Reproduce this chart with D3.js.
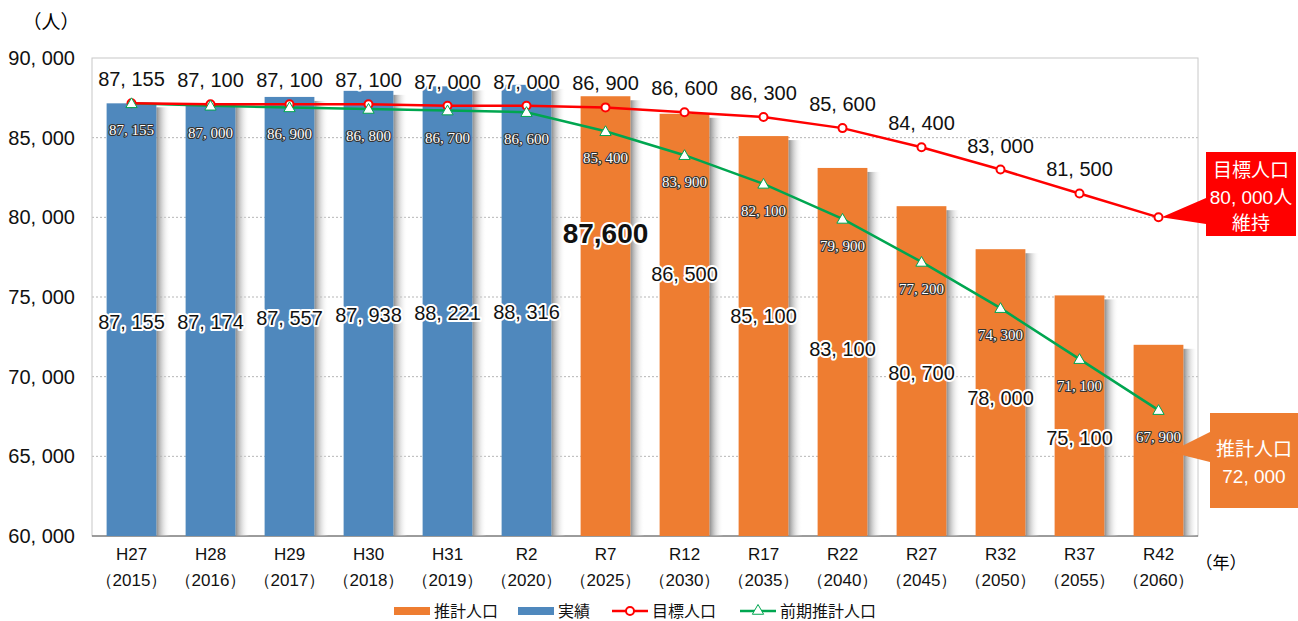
<!DOCTYPE html>
<html>
<head>
<meta charset="utf-8">
<script src="https://cdn.jsdelivr.net/npm/d3@7"></script>
<style>
  body { margin: 0; background: #fff; }
  svg { display: block; }
  .num { font-family: "Liberation Sans", Arial, sans-serif; }
  .jp { font-family: "Noto Sans CJK JP", sans-serif; }
</style>
</head>
<body>
<div id="chart"></div>
<script>
const eraLabels = ["H27", "H28", "H29", "H30", "H31", "R2", "R7", "R12", "R17", "R22", "R27", "R32", "R37", "R42"];
const yearLabels = ["2015", "2016", "2017", "2018", "2019", "2020", "2025", "2030", "2035", "2040", "2045", "2050", "2055", "2060"];
const barValues = [87155, 87174, 87557, 87938, 88221, 88316, 87600, 86500, 85100, 83100, 80700, 78000, 75100, 72000];
const barKind = ["actual", "actual", "actual", "actual", "actual", "actual", "est", "est", "est", "est", "est", "est", "est", "est"];
const targetValues = [87155, 87100, 87100, 87100, 87000, 87000, 86900, 86600, 86300, 85600, 84400, 83000, 81500, 80000];
const prevValues = [87155, 87000, 86900, 86800, 86700, 86600, 85400, 83900, 82100, 79900, 77200, 74300, 71100, 67900];
const yTicks = [60000, 65000, 70000, 75000, 80000, 85000, 90000];

// where the bar value labels sit (value-scale), the original places them by hand
const barLabelAt = [null, null, null, null, null, null, 79100, 76500, 73900, 71800, 70300, 68700, 66200, null];

const W = 1298, H = 621;
const m = { left: 92, right: 100, top: 58, bottom: 85 };

const svg = d3.select("#chart").append("svg").attr("width", W).attr("height", H);

const x = d3.scaleBand().domain(eraLabels).range([m.left, W - m.right]).paddingInner(0.37).paddingOuter(0.185);
const y = d3.scaleLinear().domain([60000, 90000]).range([H - m.bottom, m.top]);

const fmt = (v) => d3.format(",")(v).replace(",", ", ");
const colors = { actual: "#4f88bd", est: "#ee7d31", target: "#ff0000", prev: "#00a650" };

const defs = svg.append("defs");
const grad = defs.append("linearGradient").attr("id", "shadow");
grad.append("stop").attr("offset", "0%").attr("stop-color", "#8a8a8a");
grad.append("stop").attr("offset", "100%").attr("stop-color", "#fff").attr("stop-opacity", 0);

// grid
svg.append("g").selectAll("line").data(yTicks.slice(1, -1)).join("line")
  .attr("x1", m.left).attr("x2", W - m.right)
  .attr("y1", (d) => y(d)).attr("y2", (d) => y(d))
  .attr("stroke", "#b5b5b5").attr("stroke-dasharray", "2,2");

// frame
svg.append("rect").attr("x", m.left).attr("y", m.top)
  .attr("width", W - m.right - m.left).attr("height", y(60000) - m.top)
  .attr("fill", "none").attr("stroke", "#c8c8c8");
svg.append("line").attr("x1", m.left).attr("x2", W - m.right)
  .attr("y1", y(60000)).attr("y2", y(60000)).attr("stroke", "#555");

// y labels
svg.append("g").selectAll("text").data(yTicks).join("text")
  .attr("class", "num").attr("x", 75).attr("y", (d) => y(d) + 7)
  .attr("text-anchor", "end").attr("font-size", 20).attr("fill", "#111")
  .text(fmt);
svg.append("text").attr("class", "jp").attr("x", 51).attr("y", 29)
  .attr("text-anchor", "middle").attr("font-size", 19).text("（人）");

// bars
const bars = svg.append("g");
bars.selectAll("rect.sh").data(barValues).join("rect").attr("class", "sh")
  .attr("x", (d, i) => x(eraLabels[i]) + x.bandwidth())
  .attr("y", (d) => y(d) + 4)
  .attr("width", 14)
  .attr("height", (d) => y(60000) - y(d) - 4)
  .attr("fill", "url(#shadow)");
bars.selectAll("rect.bar").data(barValues).join("rect").attr("class", "bar")
  .attr("x", (d, i) => x(eraLabels[i]))
  .attr("y", (d) => y(d))
  .attr("width", x.bandwidth())
  .attr("height", (d) => y(60000) - y(d))
  .attr("fill", (d, i) => colors[barKind[i]]);

// x labels
const cx = (i) => x(eraLabels[i]) + x.bandwidth() / 2;
const xl = svg.append("g").attr("class", "num").attr("font-size", 17).attr("fill", "#111").attr("text-anchor", "middle");
xl.selectAll("text.era").data(eraLabels).join("text").attr("class", "era")
  .attr("x", (d, i) => cx(i)).attr("y", 560).text((d) => d);
xl.selectAll("text.yr").data(yearLabels).join("text").attr("class", "yr")
  .attr("x", (d, i) => cx(i)).attr("y", 586).text((d) => "（" + d + "）");
svg.append("text").attr("class", "jp").attr("x", 1221).attr("y", 569)
  .attr("text-anchor", "middle").attr("font-size", 17).text("（年）");

// lines
const line = d3.line().x((d, i) => cx(i)).y((d) => y(d));
svg.append("path").datum(prevValues).attr("d", line)
  .attr("fill", "none").attr("stroke", colors.prev).attr("stroke-width", 2.5);
svg.append("path").datum(targetValues).attr("d", line)
  .attr("fill", "none").attr("stroke", colors.target).attr("stroke-width", 2.5);

svg.append("g").selectAll("circle").data(targetValues).join("circle")
  .attr("cx", (d, i) => cx(i)).attr("cy", (d) => y(d)).attr("r", 4)
  .attr("fill", "#fff").attr("stroke", colors.target).attr("stroke-width", 2);
const tri = d3.symbol().type(d3.symbolTriangle).size(55);
svg.append("g").selectAll("path").data(prevValues).join("path")
  .attr("transform", (d, i) => `translate(${cx(i)},${y(d) + 1})`)
  .attr("d", tri).attr("fill", "#fff").attr("stroke", colors.prev).attr("stroke-width", 1);

// labels with white halo
function halo(sel) {
  sel.attr("stroke", "#fff").attr("stroke-width", 4).attr("stroke-linejoin", "round")
    .attr("paint-order", "stroke");
}

// the last target point is labelled by the callout instead
svg.append("g").selectAll("text").data(targetValues.slice(0, -1)).join("text")
  .attr("class", "num").attr("x", (d, i) => cx(i)).attr("y", (d) => y(d) - 17)
  .attr("text-anchor", "middle").attr("font-size", 20).attr("fill", "#111")
  .text(fmt).call(halo);

svg.append("g").selectAll("text").data(prevValues).join("text")
  .attr("x", (d, i) => cx(i)).attr("y", (d) => y(d) + 32)
  .attr("text-anchor", "middle").attr("font-size", 15)
  .attr("font-family", "'Liberation Serif', 'DejaVu Serif', serif")
  .attr("fill", "#fff").attr("stroke", "#333").attr("stroke-width", 2.2)
  .attr("paint-order", "stroke").attr("stroke-linejoin", "round")
  .text(fmt);

// bar value labels
const barLbl = svg.append("g").attr("class", "num").attr("text-anchor", "middle").attr("fill", "#111");
barValues.forEach((v, i) => {
  if (i === barValues.length - 1) return;
  let t;
  if (barKind[i] === "actual") {
    t = barLbl.append("text").attr("x", cx(i)).attr("y", (y(v) + y(60000)) / 2 + 9)
      .attr("font-size", 20).text(fmt(v));
  } else if (i === 6) {
    t = barLbl.append("text").attr("x", cx(i)).attr("y", y(barLabelAt[i]) + 11)
      .attr("font-size", 28).attr("font-weight", "bold").text(d3.format(",")(v));
  } else {
    t = barLbl.append("text").attr("x", cx(i)).attr("y", y(barLabelAt[i]) + 8)
      .attr("font-size", 20).text(fmt(v));
  }
  t.call(halo);
});

// callouts
const last = barValues.length - 1;
const redPt = [cx(last), y(targetValues[last])];
svg.append("path")
  .attr("d", `M1206,152 H1296 V236 H1206 V224 L${redPt[0] + 3},${redPt[1]} L1206,198 Z`)
  .attr("fill", "#ff0000");
const rc = svg.append("g").attr("class", "jp").attr("fill", "#fff").attr("text-anchor", "middle").attr("font-size", 19);
rc.append("text").attr("x", 1251).attr("y", 177).text("目標人口");
rc.append("text").attr("x", 1251).attr("y", 204).attr("class", "num").attr("font-size", 19)
  .text("80, 000").append("tspan").attr("class", "jp").attr("font-size", 19).text("人");
rc.append("text").attr("x", 1251).attr("y", 230).text("維持");

svg.append("path")
  .attr("d", `M1210,413 H1298 V508 H1210 V462 L1170,452 L1210,432 Z`)
  .attr("fill", "#ee7d31");
const oc = svg.append("g").attr("fill", "#fff").attr("text-anchor", "middle");
oc.append("text").attr("class", "jp").attr("x", 1254).attr("y", 456).attr("font-size", 19).text("推計人口");
oc.append("text").attr("class", "num").attr("x", 1254).attr("y", 483).attr("font-size", 19).text(fmt(barValues[last]));

// legend
const lg = svg.append("g").attr("font-size", 16).attr("class", "jp").attr("fill", "#111");
lg.append("rect").attr("x", 394).attr("y", 607).attr("width", 36).attr("height", 8).attr("fill", colors.est);
lg.append("text").attr("x", 434).attr("y", 617).text("推計人口");
lg.append("rect").attr("x", 518).attr("y", 607).attr("width", 36).attr("height", 8).attr("fill", colors.actual);
lg.append("text").attr("x", 558).attr("y", 617).text("実績");
lg.append("line").attr("x1", 612).attr("x2", 648).attr("y1", 611).attr("y2", 611).attr("stroke", colors.target).attr("stroke-width", 2.5);
lg.append("circle").attr("cx", 630).attr("cy", 611).attr("r", 4).attr("fill", "#fff").attr("stroke", colors.target).attr("stroke-width", 2);
lg.append("text").attr("x", 652).attr("y", 617).text("目標人口");
lg.append("line").attr("x1", 740).attr("x2", 776).attr("y1", 611).attr("y2", 611).attr("stroke", colors.prev).attr("stroke-width", 2.5);
lg.append("path").attr("transform", "translate(758,611)").attr("d", tri).attr("fill", "#fff").attr("stroke", colors.prev);
lg.append("text").attr("x", 780).attr("y", 617).text("前期推計人口");
</script>
</body>
</html>
